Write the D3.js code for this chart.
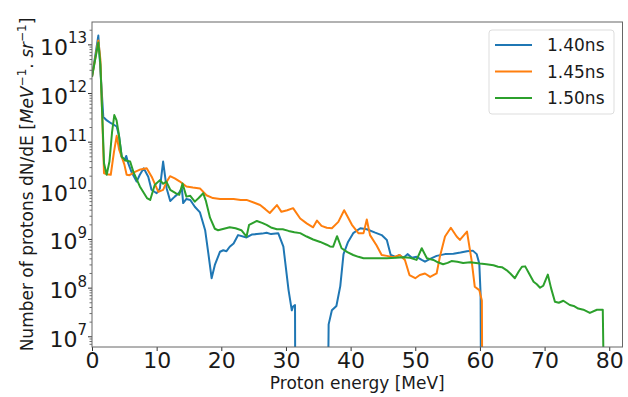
<!DOCTYPE html>
<html>
<head>
<meta charset="utf-8">
<script src="https://cdn.jsdelivr.net/npm/d3@7"></script>
<style>
  body { margin: 0; background: #fff; }
  svg { display: block; font-family: "DejaVu Sans", sans-serif; }
</style>
</head>
<body>
<div id="chart"></div>
<script>
// Proton spectra at three times (energy in MeV, dN/dE in MeV^-1 sr^-1)
// zeros = no protons, drawn down out of the log axis like matplotlib does

const series = ['1.40ns', '1.45ns', '1.50ns'];
const colors = ['#1f77b4', '#ff7f0e', '#2ca02c'];

const energy140 = [0, 0.98, 1.75, 2.3, 2.94, 3.82, 4.2, 4.6, 5.0, 5.3, 5.6, 6.1, 6.9, 7.4, 8.0, 8.7, 9.2, 10.0, 10.5, 11.0, 11.55, 12.1, 12.8, 13.4, 13.9, 14.1, 14.6, 15.2, 15.9, 16.7, 17.5, 18.0, 18.5, 19.0, 19.8, 20.3, 20.8, 21.3, 21.9, 22.6, 23.9, 24.7, 25.5, 26.3, 27.0, 27.7, 28.8, 29.6, 30.4, 30.9, 31.1, 31.4, 31.5, 36.3, 36.6, 37.1, 37.8, 38.4, 38.9, 39.6, 40.4, 41.5, 42.5, 43.8, 44.8, 45.6, 46.2, 46.6, 47.0, 47.5, 48.2, 48.8, 49.5, 50.2, 51.0, 51.5, 52.3, 53.3, 54.6, 55.9, 57.0, 58.0, 58.9, 59.5, 59.9, 60.1, 60.25];
const counts140 = [2.2e12, 1.55e13, 3.3e11, 2.8e11, 2.45e11, 2.1e11, 1.3e11, 5e10, 4.2e10, 5.2e10, 3.7e10, 2.45e10, 1.55e10, 2.14e10, 2.9e10, 1.95e10, 1.05e10, 8.9e9, 1.12e10, 4e10, 1.12e10, 6.2e9, 7.6e9, 8.9e9, 1.12e10, 5.6e9, 6.8e9, 6.5e9, 4.7e9, 3.6e9, 1.55e9, 5.1e8, 1.6e8, 3.0e8, 5.6e8, 6.0e8, 5.75e8, 7.1e8, 8.3e8, 1.23e9, 1.1e9, 1.26e9, 1.29e9, 1.32e9, 1.38e9, 1.29e9, 1.35e9, 7.1e8, 9.1e7, 3.5e7, 4.2e7, 4.5e7, 0, 0, 1.8e7, 3.5e7, 4.3e7, 1.1e8, 5e8, 8.9e8, 1.35e9, 1.7e9, 1.62e9, 1.38e9, 1.23e9, 9.8e8, 4.8e8, 4.6e8, 4.3e8, 4.8e8, 4.2e8, 5e8, 4.2e8, 4.4e8, 3.8e8, 3.5e8, 4e8, 4.6e8, 5e8, 5.1e8, 5.4e8, 5.75e8, 5.9e8, 5e8, 3.2e8, 7.8e7, 0];

const energy145 = [0, 0.98, 1.3, 1.86, 2.3, 2.9, 3.4, 3.82, 4.2, 4.6, 5.0, 5.36, 5.8, 6.65, 7.5, 8.46, 9.23, 10.26, 11.0, 11.6, 12.07, 12.8, 13.6, 14.6, 15.6, 16.7, 17.7, 18.7, 19.8, 21.0, 21.9, 23.0, 23.9, 25.0, 26.0, 26.8, 27.5, 28.6, 29.3, 30.2, 31.1, 32.2, 33.2, 34.2, 34.8, 35.5, 36.3, 37.1, 38.1, 39.0, 39.5, 40.2, 41.2, 42.0, 42.5, 43.0, 44.0, 44.8, 45.6, 46.6, 47.6, 48.4, 49.1, 50.0, 50.7, 51.5, 52.3, 53.3, 53.8, 54.6, 55.5, 56.4, 56.9, 58.0, 58.7, 59.2, 59.9, 60.3, 60.45];
const counts145 = [2.2e12, 1.23e13, 5e12, 2.3e10, 2.2e10, 2.14e10, 6.3e10, 1.35e11, 7e10, 5e10, 3.5e10, 2.14e10, 2.1e10, 2.45e10, 2.75e10, 2.9e10, 1.95e10, 9.5e9, 1.05e10, 1.58e10, 2e10, 1.8e10, 1.55e10, 1.23e10, 1.17e10, 1.12e10, 8.1e9, 7.1e9, 6.8e9, 6.8e9, 6.8e9, 6.5e9, 6.5e9, 5.75e9, 5.1e9, 4.2e9, 3.5e9, 5.1e9, 3.7e9, 4e9, 4.4e9, 2.7e9, 2.14e9, 1.78e9, 2.45e9, 1.9e9, 1.74e9, 1.7e9, 2.3e9, 4e9, 3e9, 2e9, 1.35e9, 1.35e9, 2.57e9, 1.23e9, 7.6e8, 4.8e8, 4.6e8, 4.3e8, 4.8e8, 3.8e8, 1.86e8, 1.6e8, 1.86e8, 2e8, 1.7e8, 2e8, 4.4e8, 1.15e9, 1.74e9, 1.15e9, 9.8e8, 1.45e9, 3.8e8, 1.07e8, 9.1e7, 5.6e7, 0];

const energy150 = [0, 0.98, 1.3, 1.5, 1.86, 2.27, 2.7, 3.1, 3.45, 3.8, 4.1, 4.6, 5.2, 5.9, 6.4, 7.4, 8.5, 9.0, 9.7, 10.5, 11.0, 11.5, 12.1, 13.0, 13.5, 14.0, 14.6, 15.2, 15.9, 16.5, 17.2, 17.6, 18.25, 19.0, 19.5, 20.4, 21.3, 22.2, 23.1, 23.9, 24.3, 25.5, 26.3, 27.0, 27.8, 28.6, 29.5, 30.4, 31.3, 32.2, 33.2, 34.2, 35.3, 36.3, 36.8, 37.3, 37.9, 38.6, 39.5, 40.4, 41.2, 42.0, 43.0, 44.5, 45.6, 47.0, 48.2, 49.2, 50.2, 51.0, 51.8, 52.8, 53.5, 54.3, 55.0, 55.6, 56.5, 57.4, 58.5, 60.0, 61.0, 62.1, 62.8, 63.4, 64.1, 64.7, 65.4, 66.0, 66.5, 67.0, 67.6, 68.3, 68.8, 69.3, 69.8, 70.5, 71.0, 71.6, 72.2, 72.9, 73.9, 74.5, 75.2, 76.0, 77.0, 78.1, 79.0, 79.5];
const counts150 = [2.2e12, 1.12e13, 4e12, 7.4e11, 3.7e10, 2.14e10, 4e10, 1.6e11, 3.6e11, 2.8e11, 1.6e11, 5e10, 4.2e10, 4e10, 2.45e10, 1.23e10, 7.1e9, 6.5e9, 1.32e10, 1.66e10, 1.4e10, 1.55e10, 1.05e10, 8.9e9, 8.3e9, 1.41e10, 7.6e9, 7.9e9, 6e9, 7.1e9, 8.9e9, 6.3e9, 2.8e9, 1.66e9, 1.55e9, 1.66e9, 1.78e9, 1.7e9, 1.55e9, 1.15e9, 2e9, 2.4e9, 2.2e9, 2e9, 1.74e9, 1.62e9, 1.62e9, 1.5e9, 1.41e9, 1.35e9, 1.15e9, 1e9, 8.9e8, 7.8e8, 7.2e8, 7.1e8, 1.17e9, 6.6e8, 5.5e8, 4.8e8, 4.4e8, 4.1e8, 4.1e8, 4.1e8, 4.1e8, 4.2e8, 4.3e8, 4.2e8, 3.8e8, 6.6e8, 4.1e8, 3.8e8, 3.4e8, 3.1e8, 3.3e8, 3.6e8, 3.5e8, 3.3e8, 3.4e8, 3.2e8, 3.1e8, 2.95e8, 2.75e8, 2.7e8, 2.35e8, 2e8, 1.6e8, 2.2e8, 2.75e8, 2.8e8, 2e8, 1.35e8, 1.2e8, 1.02e8, 1.12e8, 1.9e8, 1e8, 5.25e7, 5e7, 5.5e7, 4.5e7, 4.3e7, 3.8e7, 3.6e7, 3.1e7, 3.6e7, 3.6e7, 0];

const xTicks = [0, 10, 20, 30, 40, 50, 60, 70, 80];
const yTickExponents = [7, 8, 9, 10, 11, 12, 13];

const width = 628, height = 397;
const margin = {top: 22, right: 5.5, bottom: 50, left: 92};
const xMax = 82.05;
const yDomain = [Math.pow(10, 6.79), Math.pow(10, 13.47)];
const floorValue = 1e3; // where zeros get sent (below the axis)

const svg = d3.select('#chart')
    .append('svg')
    .attr('width', width)
    .attr('height', height);

const x = d3.scaleLinear()
    .domain([0, xMax])
    .range([margin.left, width - margin.right]);

const y = d3.scaleLog()
    .domain(yDomain)
    .range([height - margin.bottom, margin.top]);

svg.append('clipPath')
    .attr('id', 'plot-clip')
    .append('rect')
    .attr('x', margin.left)
    .attr('y', margin.top)
    .attr('width', width - margin.left - margin.right)
    .attr('height', height - margin.top - margin.bottom);

// Lines
const seriesData = [
    d3.zip(energy140, counts140),
    d3.zip(energy145, counts145),
    d3.zip(energy150, counts150)
];

const line = d3.line()
    .x(d => x(d[0]))
    .y(d => y(Math.max(d[1], floorValue)));

svg.append('g')
    .attr('clip-path', 'url(#plot-clip)')
    .selectAll('path')
    .data(seriesData)
    .join('path')
    .attr('fill', 'none')
    .attr('stroke', (d, i) => colors[i])
    .attr('stroke-width', 2)
    .attr('stroke-linejoin', 'round')
    .attr('d', line);

// X axis
const xAxis = svg.append('g')
    .attr('transform', `translate(0,${height - margin.bottom})`)
    .call(d3.axisBottom(x).tickValues(xTicks).tickSize(4));
xAxis.select('.domain').remove();
xAxis.selectAll('line').attr('stroke', '#333');
xAxis.selectAll('text')
    .attr('y', 21)
    .attr('dy', null)
    .attr('fill', '#1a1a1a')
    .style('font-size', '22px')
    .style('font-family', '"DejaVu Sans", sans-serif');

// Y axis: major ticks with 10^n labels, plus minor ticks
const yAxis = svg.append('g')
    .attr('transform', `translate(${margin.left},0)`);

const minorTicks = [];
yTickExponents.concat([6]).forEach(e => {
    for (let m = 2; m <= 9; m++) {
        const v = m * Math.pow(10, e);
        if (v >= yDomain[0] && v <= yDomain[1]) minorTicks.push(v);
    }
});

yAxis.selectAll('.minor')
    .data(minorTicks)
    .join('line')
    .attr('class', 'minor')
    .attr('x1', -2.5).attr('x2', 0)
    .attr('y1', d => y(d)).attr('y2', d => y(d))
    .attr('stroke', '#333')
    .attr('stroke-width', 0.7);

const major = yAxis.selectAll('.major')
    .data(yTickExponents)
    .join('g')
    .attr('class', 'major')
    .attr('transform', d => `translate(0,${y(Math.pow(10, d))})`);

major.append('line')
    .attr('x1', -4).attr('x2', 0)
    .attr('stroke', '#333');

const yLabel = major.append('text')
    .attr('x', -5)
    .attr('y', 10)
    .attr('text-anchor', 'end')
    .attr('fill', '#1a1a1a')
    .style('font-size', '22px');
yLabel.append('tspan').text('10');
yLabel.append('tspan')
    .attr('dy', -11.5)
    .style('font-size', '15px')
    .text(d => d);

// Frame
svg.append('rect')
    .attr('x', margin.left)
    .attr('y', margin.top)
    .attr('width', width - margin.left - margin.right)
    .attr('height', height - margin.top - margin.bottom)
    .attr('fill', 'none')
    .attr('stroke', '#666')
    .attr('stroke-width', 1);

// Axis titles
svg.append('text')
    .attr('x', x(xMax / 2))
    .attr('y', 389)
    .attr('text-anchor', 'middle')
    .attr('fill', '#1a1a1a')
    .style('font-size', '17px')
    .text('Proton energy [MeV]');

const yt = svg.append('text')
    .attr('transform', `translate(33,${(margin.top + height - margin.bottom) / 2}) rotate(-90)`)
    .attr('text-anchor', 'middle')
    .attr('fill', '#1a1a1a')
    .style('font-size', '17px');
yt.append('tspan').text('Number of protons dN/dE [');
yt.append('tspan').style('font-style', 'italic').text('MeV');
yt.append('tspan').attr('dy', -7).style('font-size', '12px').text('\u22121');
yt.append('tspan').attr('dy', 7).text('. ');
yt.append('tspan').style('font-style', 'italic').text('sr');
yt.append('tspan').attr('dy', -7).style('font-size', '12px').text('\u22121');
yt.append('tspan').attr('dy', 7).text(']');

// Legend
const legend = svg.append('g')
    .attr('transform', 'translate(489,30)');

legend.append('rect')
    .attr('width', 125)
    .attr('height', 84)
    .attr('rx', 3)
    .attr('fill', '#fff')
    .attr('fill-opacity', 0.8)
    .attr('stroke', '#ddd');

const items = legend.selectAll('.item')
    .data(series)
    .join('g')
    .attr('class', 'item')
    .attr('transform', (d, i) => `translate(0,${15 + i * 26.5})`);

items.append('line')
    .attr('x1', 6).attr('x2', 43)
    .attr('stroke', (d, i) => colors[i])
    .attr('stroke-width', 2);

items.append('text')
    .attr('x', 58)
    .attr('y', 6)
    .attr('fill', '#1a1a1a')
    .style('font-size', '17px')
    .text(d => d);
</script>
</body>
</html>
